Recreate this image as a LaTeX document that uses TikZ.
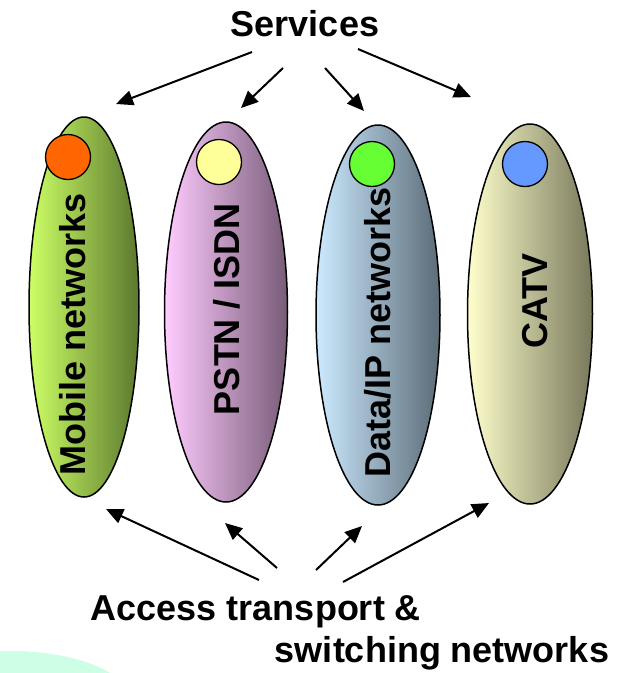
\documentclass[tikz,border=0pt]{standalone}
\usepackage{fontspec}
\setmainfont{Liberation Sans}
\usetikzlibrary{shapes.geometric,arrows.meta}

\definecolor{mint}{RGB}{204,255,230}
\definecolor{mobilelight}{RGB}{204,255,102}
\definecolor{mobiledark}{RGB}{92,120,46}
\definecolor{pstnlight}{RGB}{255,204,255}
\definecolor{pstndark}{RGB}{120,92,120}
\definecolor{datalight}{RGB}{204,234,255}
\definecolor{datadark}{RGB}{92,108,120}
\definecolor{catvlight}{RGB}{255,255,204}
\definecolor{catvdark}{RGB}{120,120,92}

\begin{document}
\begin{tikzpicture}[x=1pt,y=-1pt,
    net/.style={ellipse, draw, line width=1.5pt, inner sep=0pt, minimum height=380pt},
    dot/.style={circle, draw, line width=1.3pt, inner sep=0pt, minimum size=45pt},
    lbl/.style={font=\fontsize{36}{40}\selectfont\bfseries, inner sep=0pt},
    arr/.style={line width=2pt, -{Triangle[length=17pt,width=15pt]}}]
        \useasboundingbox (0,0) rectangle (625,673);
        % Background shape
        \begin{scope}
            \clip (0,0) rectangle (625,673);
            \fill[mint] (10,700) ellipse [x radius=120, y radius=49];
        \end{scope}
        % Networks
        \node (mobile) at (84,307) [net, minimum width=110pt, left color=mobilelight, right color=mobiledark] {};
        \node (pstn) at (226,312) [net, minimum width=123pt, left color=pstnlight, right color=pstndark] {};
        \node (data) at (378,315) [net, minimum width=124pt, left color=datalight, right color=datadark] {};
        \node (catv) at (530,314) [net, minimum width=125pt, left color=catvlight, right color=catvdark] {};
        % Dots
        \node (mobiledot) at (68,157) [dot, fill={rgb,255:red,255;green,102;blue,0}] {};
        \node (pstndot) at (219,162) [dot, fill={rgb,255:red,255;green,255;blue,153}] {};
        \node (datadot) at (372,164) [dot, fill={rgb,255:red,102;green,255;blue,51}] {};
        \node (catvdot) at (525,164) [dot, fill={rgb,255:red,102;green,153;blue,255}] {};
        % Labels
        \node (mobiletxt) at (73,334) [lbl, rotate=90] {Mobile networks};
        \node (pstntxt) at (227,309) [lbl, rotate=90] {PSTN / ISDN};
        \node (datatxt) at (378,332) [lbl, rotate=90] {Data/IP networks};
        \node (catvtxt) at (535,301) [lbl, rotate=90] {CATV};
        \node (services) at (305,36) [lbl, anchor=base] {Services};
        \node (access) at (256,620) [lbl, anchor=base] {Access transport \&};
        \node (switching) at (442,662) [lbl, anchor=base] {switching networks};
        % Arrow ends
        \coordinate (s1) at (252,52);  \coordinate (t1) at (116,104);
        \coordinate (s2) at (283,68);  \coordinate (t2) at (241,108);
        \coordinate (s3) at (325,68);  \coordinate (t3) at (364,111);
        \coordinate (s4) at (358,49);  \coordinate (t4) at (471,97);
        \coordinate (b1) at (259,580); \coordinate (u1) at (106,509);
        \coordinate (b2) at (277,568); \coordinate (u2) at (225,523);
        \coordinate (b3) at (316,570); \coordinate (u3) at (362,526);
        \coordinate (b4) at (343,582); \coordinate (u4) at (489,503);
        % Arrows
        \foreach \i in {1,2,3,4} {
            \draw[arr] (s\i) -- (t\i);
            \draw[arr] (b\i) -- (u\i);
        }
\end{tikzpicture}
\end{document}
